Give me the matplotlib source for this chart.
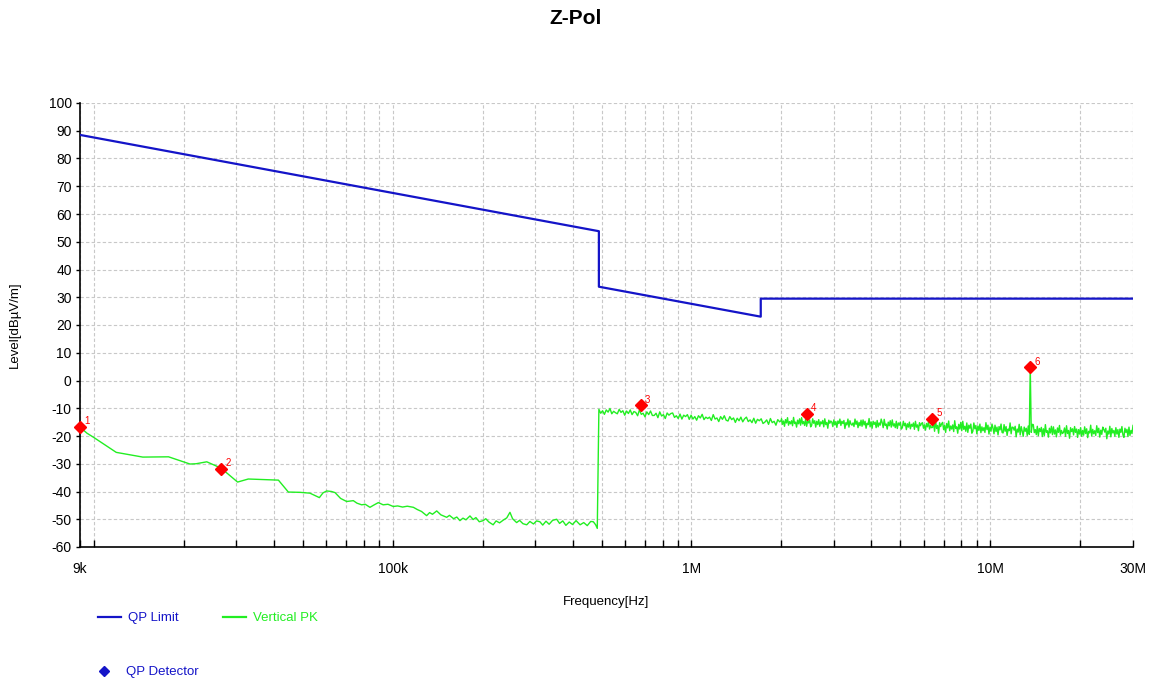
import numpy as np
import matplotlib
matplotlib.use("Agg")
import matplotlib.pyplot as plt
from matplotlib.lines import Line2D
from matplotlib.ticker import FixedLocator, FixedFormatter, NullLocator

plt.rcParams['font.family'] = ['Liberation Sans', 'DejaVu Sans']
plt.rcParams['axes.unicode_minus'] = False

# ---------------- data ----------------
# QP limit (Hz, dBµV/m)
limit_freq = [9e3, 490e3, 490e3, 1.705e6, 1.705e6, 30e6]
limit_level = [88.5, 53.8, 33.8, 23.0, 29.5, 29.5]

# Vertical PK trace, low band (kHz, dBµV/m)
low_freq_khz = [9.0, 9.5, 10.0, 11.9, 14.6, 17.8, 21.0, 22.0, 23.9, 26.7,
                30.3, 32.9, 41.5, 44.8, 49.0, 52.9, 56.9, 58.5, 60.2, 62.5,
                64.2, 67.0, 70.2, 73.9, 76.0, 78.8, 81.0, 84.0, 86.5, 89.6,
                93.0, 96.5, 100.5, 104, 108, 112, 117.4, 121, 125, 130,
                133, 136, 140.5, 145, 151.7, 155, 160, 164, 168, 172,
                176, 181.5, 186, 190, 195, 201, 205, 210, 217, 222,
                228, 234.7, 241, 247, 252, 260, 266, 273, 281, 288,
                296, 303, 311, 318, 326, 334, 343, 354, 362, 371,
                380, 390, 400, 411, 424, 436, 448, 460, 469.5, 478,
                484]
low_level = [-16.8, -19.0, -20.5, -25.9, -27.6, -27.5, -30.1, -30.0, -29.3, -31.6,
             -36.6, -35.5, -35.9, -40.2, -40.3, -40.6, -42.2, -40.5, -39.8, -40.0,
             -40.4, -42.5, -43.6, -43.3, -44.2, -44.8, -44.6, -45.7, -44.9, -44.0,
             -44.8, -44.6, -45.4, -45.2, -45.6, -45.3, -45.7, -46.5, -47.2, -48.7,
             -47.6, -48.2, -47.0, -48.4, -49.3, -48.6, -49.8, -49.2, -50.5, -49.6,
             -50.2, -48.8, -50.1, -49.4, -50.9, -50.5, -49.8, -51.0, -52.0, -50.6,
             -51.3, -50.3, -49.5, -47.5, -49.8, -51.2, -50.4, -51.6, -52.0, -50.8,
             -51.7, -50.6, -50.9, -52.1, -50.7, -51.8, -50.4, -50.0, -51.5, -50.6,
             -52.2, -51.0, -51.9, -50.5, -52.0, -51.2, -52.3, -50.8, -50.9, -52.0,
             -53.3]

# Vertical PK trace, mid band: sweep 490 kHz .. 2 MHz, 100 points
mid_start_hz = 490e3
mid_stop_hz = 2e6
mid_level = [
    -10.4, -11.8, -10.9, -12.2, -10.6, -11.4, -10.1, -12.0, -11.1, -11.6,
    -12.0, -10.4, -11.5, -10.9, -12.5, -11.0, -11.9, -10.6, -12.3, -11.2,
    -11.5, -12.7, -10.6, -12.2, -11.8, -13.1, -11.3, -12.3, -11.0, -12.6,
    -12.6, -11.8, -13.4, -11.3, -12.8, -12.3, -13.7, -11.7, -12.5, -11.9,
    -11.7, -13.3, -12.7, -13.7, -12.1, -13.9, -12.5, -13.0, -12.3, -14.0,
    -12.5, -13.9, -13.0, -14.3, -12.7, -13.5, -12.2, -14.1, -13.2, -13.7,
    -13.2, -14.4, -12.3, -13.9, -13.5, -14.8, -13.0, -14.0, -12.7, -14.3,
    -14.6, -13.0, -14.1, -13.5, -15.1, -13.6, -14.5, -13.2, -14.9, -13.8,
    -13.2, -14.8, -14.2, -15.2, -13.6, -15.4, -14.0, -14.5, -13.8, -15.5,
    -15.0, -14.2, -15.8, -13.7, -15.2, -14.7, -16.1, -14.1, -14.9, -14.3,
]

# Vertical PK trace, high band: sweep 2 MHz .. 30 MHz, 350 points
high_start_hz = 2e6
high_stop_hz = 30e6
high_level = [
    -13.8, -15.8, -14.6, -16.5, -14.1, -15.3, -13.4, -16.1, -14.8, -15.6,
    -14.5, -16.3, -13.3, -15.5, -15.0, -16.8, -14.3, -15.6, -13.8, -16.1,
    -13.4, -15.6, -14.8, -16.2, -13.9, -16.5, -14.5, -15.3, -14.2, -16.7,
    -16.1, -13.8, -15.4, -14.5, -16.8, -14.7, -15.9, -14.1, -16.5, -14.9,
    -15.6, -14.4, -16.7, -13.8, -15.9, -15.1, -17.2, -14.3, -15.4, -14.6,
    -15.0, -16.6, -14.2, -16.0, -14.8, -16.9, -14.6, -15.5, -13.9, -16.2,
    -14.7, -15.5, -14.4, -17.3, -15.2, -16.0, -13.9, -16.8, -14.5, -15.7,
    -16.1, -15.3, -16.6, -13.9, -15.8, -14.6, -17.0, -15.1, -16.3, -14.3,
    -16.5, -14.2, -16.0, -14.7, -17.2, -15.4, -15.9, -13.7, -16.7, -14.9,
    -17.2, -14.7, -15.8, -15.0, -17.0, -14.4, -16.7, -15.3, -16.1, -13.9,
    -15.2, -17.0, -14.0, -16.2, -15.7, -17.5, -15.0, -16.3, -14.5, -16.8,
    -14.2, -16.4, -15.6, -17.0, -14.7, -17.3, -15.3, -16.1, -15.0, -17.5,
    -17.0, -14.7, -16.3, -15.4, -17.7, -15.6, -16.8, -15.0, -17.4, -15.8,
    -16.5, -15.3, -17.6, -14.7, -16.8, -16.0, -18.1, -15.2, -16.3, -15.5,
    -15.2, -17.2, -16.0, -17.9, -15.5, -16.7, -14.8, -17.5, -16.2, -17.0,
    -16.9, -15.3, -18.3, -14.5, -17.3, -16.2, -19.0, -15.2, -16.6, -15.6,
    -15.1, -17.7, -16.2, -18.7, -15.5, -17.1, -14.6, -18.1, -16.4, -17.5,
    -16.0, -18.4, -14.5, -17.3, -16.7, -19.0, -15.8, -17.5, -15.1, -18.1,
    -14.7, -17.6, -16.5, -18.3, -15.3, -18.7, -16.1, -17.2, -15.7, -19.0,
    -18.3, -15.3, -17.4, -16.2, -19.2, -16.4, -18.0, -15.7, -18.8, -16.7,
    -18.1, -17.0, -18.7, -15.2, -17.7, -16.1, -19.3, -16.8, -18.3, -15.7,
    -17.1, -19.2, -16.1, -18.4, -16.8, -19.6, -16.6, -17.8, -15.7, -18.7,
    -18.9, -15.9, -18.3, -16.6, -19.8, -17.5, -18.1, -15.3, -19.2, -16.8,
    -16.9, -17.9, -16.5, -20.3, -17.5, -18.6, -15.8, -19.6, -16.6, -18.2,
    -20.1, -16.8, -18.3, -17.2, -19.8, -16.4, -19.4, 4.7, -18.7, -15.8,
    -15.9, -18.8, -17.7, -19.5, -16.5, -19.9, -17.3, -18.4, -16.9, -20.2,
    -17.4, -19.8, -15.9, -18.7, -18.1, -20.4, -17.2, -18.9, -16.5, -19.5,
    -16.7, -19.3, -17.8, -20.3, -17.1, -18.7, -16.2, -19.7, -18.0, -19.1,
    -18.7, -17.1, -20.1, -16.3, -19.1, -18.0, -20.8, -17.0, -18.4, -17.4,
    -19.6, -16.6, -18.7, -17.5, -20.5, -17.7, -19.3, -17.0, -20.1, -18.0,
    -19.7, -16.7, -19.1, -17.4, -20.6, -18.3, -18.9, -16.1, -20.0, -17.6,
    -19.2, -18.1, -19.8, -16.3, -18.8, -17.2, -20.4, -17.9, -19.4, -16.8,
    -17.6, -18.6, -17.2, -21.0, -18.2, -19.3, -16.5, -20.3, -17.3, -18.9,
    -18.0, -20.1, -17.0, -19.3, -17.7, -20.5, -17.5, -18.7, -16.6, -19.6,
    -20.5, -17.2, -18.7, -17.6, -20.2, -16.8, -19.8, -18.0, -19.1, -16.2,
]

# QP detector markers
marker_freq = [9.0e3, 26.7e3, 676e3, 2.43e6, 6.39e6, 13.56e6]
marker_level = [-16.7, -31.8, -9.0, -11.9, -13.8, 4.7]
marker_labels = ['1', '2', '3', '4', '5', '6']

# axis ticks
x_ticks = [9e3, 1e4, 2e4, 3e4, 4e4, 5e4, 6e4, 7e4, 8e4, 9e4,
           1e5, 2e5, 3e5, 4e5, 5e5, 6e5, 7e5, 8e5, 9e5,
           1e6, 2e6, 3e6, 4e6, 5e6, 6e6, 7e6, 8e6, 9e6,
           1e7, 2e7, 3e7]
x_tick_names = {9e3: '9k', 1e5: '100k', 1e6: '1M', 1e7: '10M', 3e7: '30M'}
y_ticks = list(range(-60, 101, 10))

# ---------------- plot ----------------
W, H = 1151, 683
fig = plt.figure(figsize=(W / 100, H / 100), dpi=100)
ax = fig.add_axes([80 / W, 1 - 547 / H, (1133 - 80) / W, (547 - 103) / H])

blue = '#1414C8'
green = '#22EE22'

ax.plot(limit_freq, limit_level, color=blue, lw=1.6, zorder=3)

mid_freq = np.geomspace(mid_start_hz, mid_stop_hz, len(mid_level))
high_freq = np.geomspace(high_start_hz, high_stop_hz, len(high_level))
pk_freq = np.concatenate([np.array(low_freq_khz) * 1e3, mid_freq, high_freq])
pk_level = np.concatenate([low_level, mid_level, high_level])
ax.plot(pk_freq, pk_level, color=green, lw=1.0, zorder=3)

ax.plot(marker_freq, marker_level, linestyle='none', marker='D', markersize=6,
        color='#FF0000', markeredgecolor='#FF0000', zorder=5, clip_on=False)
for f, v, t in zip(marker_freq, marker_level, marker_labels):
    ax.annotate(t, (f, v), xytext=(3, 2), textcoords='offset points',
                color='#FF0000', fontsize=7, zorder=6)

ax.set_xscale('log')
ax.set_xlim(9e3, 30e6)
ax.set_ylim(-60, 100)

ax.xaxis.set_major_locator(FixedLocator(x_ticks))
ax.xaxis.set_major_formatter(FixedFormatter([x_tick_names.get(t, '') for t in x_ticks]))
ax.xaxis.set_minor_locator(NullLocator())
ax.set_yticks(y_ticks)

ax.tick_params(axis='x', direction='in', length=5, width=1, pad=11,
               labelsize=10, colors='black')
ax.tick_params(axis='y', direction='out', length=3, width=1, pad=3,
               labelsize=10)

ax.grid(True, which='major', color='#C8C8C8', linestyle=(0, (3, 2)), linewidth=0.8)
ax.set_axisbelow(True)
for s in ['top', 'right']:
    ax.spines[s].set_visible(False)
for s in ['left', 'bottom']:
    ax.spines[s].set_linewidth(1.2)

ax.set_xlabel('Frequency[Hz]', fontsize=9.5, labelpad=14)
ax.set_ylabel('Level[dBµV/m]', fontsize=9.5, labelpad=20)

fig.text(0.5, 1 - 18 / H, 'Z-Pol', ha='center', va='center',
         fontsize=15, fontweight='bold')

# legends
h1 = Line2D([], [], color=blue, lw=1.6)
h2 = Line2D([], [], color=green, lw=1.6)
leg1 = fig.legend([h1, h2], ['QP Limit', 'Vertical PK'], ncol=2, frameon=False,
                  loc='center left', bbox_to_anchor=(86 / W, 1 - 618 / H),
                  fontsize=9.5, handlelength=1.75, handletextpad=0.5,
                  columnspacing=3.4, labelcolor='linecolor')
h3 = Line2D([], [], color=blue, marker='D', markersize=5, linestyle='none')
leg2 = fig.legend([h3], ['QP Detector'], frameon=False,
                  loc='center left', bbox_to_anchor=(86 / W, 1 - 672 / H),
                  fontsize=9.5, handlelength=0.9, handletextpad=1.2)
for t in leg2.get_texts():
    t.set_color(blue)

fig.savefig('out.png', dpi=100)
